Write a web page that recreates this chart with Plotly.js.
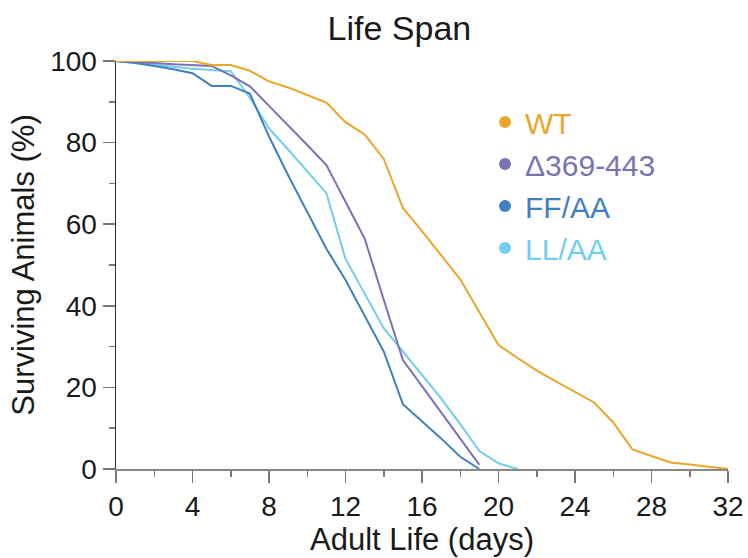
<!DOCTYPE html>
<html>
<head>
<meta charset="utf-8">
<script src="https://cdn.plot.ly/plotly-3.0.1.min.js"></script>
<style>html,body{margin:0;padding:0;background:#fff;}#chart{width:748px;height:558px;}</style>
</head>
<body>
<div id="chart"></div>
<script>
// Days (x values)
const daysWT = [0,1,2,3,4,5,6,7,8,9,10,11,12,13,14,15,16,17,18,19,20,21,22,23,24,25,26,27,28,29,30,31,32];
const daysD  = [0,1,2,3,4,5,6,7,8,9,10,11,12,13,14,15,16,17,18,19];
const daysFF = [0,1,2,3,4,5,6,7,8,9,10,11,12,13,14,15,16,17,18,19];
const daysLL = [0,1,2,3,4,5,6,7,8,9,10,11,12,13,14,15,16,17,18,19,20,21];

// Surviving animals (%)
const survWT = [100,100,100,100,100,99,99,97.6,95,93.5,91.6,89.8,85,82,76,64,58.3,52.5,46.5,38.4,30.4,27.2,24.1,21.5,18.9,16.3,11.4,4.8,3.2,1.6,1.1,0.5,0];
const survD  = [100,99.8,99.5,99.2,99,98.8,96.5,93.8,89,84.3,79.4,74.5,65.4,56.5,41.5,26.7,20.3,13.9,7.5,1];
const survFF = [100,99.5,98.8,98,97,93.9,93.9,92,81.5,72,63,54,46.3,37.5,28.8,15.9,11.7,7.5,3,0];
const survLL = [100,99.6,99.1,98.6,98.1,97.8,97.5,91,83.5,78.3,73,67.6,51.5,43,34.5,28.8,23,17.3,11,4.4,1.4,0];

const seriesNames = ['WT','\u0394369-443','FF/AA','LL/AA'];
const seriesColors = ['#EBA62A','#7874B4','#3F80C0','#72CDF0'];
const xTicks = [0,4,8,12,16,20,24,28,32];
const yTicks = [0,20,40,60,80,100];

const xs = [daysWT, daysD, daysFF, daysLL];
const ys = [survWT, survD, survFF, survLL];

const traces = [];
[3,2,1,0].forEach(i => {
  traces.push({
    x: xs[i], y: ys[i], type: 'scatter', mode: 'lines',
    line: {color: seriesColors[i], width: 2},
    showlegend: false, hoverinfo: 'skip', cliponaxis: false
  });
});
[0,1,2,3].forEach(i => {
  traces.push({
    x: [null], y: [null], type: 'scatter', mode: 'markers',
    marker: {color: seriesColors[i], size: 14},
    name: '<span style="color:' + seriesColors[i] + '">' + seriesNames[i] + '</span>',
    legendgroup: 'g' + i, showlegend: true
  });
});

const font = 'Liberation Sans, Arial, sans-serif';
const layout = {
  width: 748, height: 558,
  margin: {l: 116, r: 20, t: 61, b: 89, pad: 0},
  paper_bgcolor: '#fff', plot_bgcolor: '#fff',
  font: {family: font, color: '#1a1a1a', size: 28},
  title: {text: 'Life Span', font: {family: font, size: 34, color: '#1a1a1a'}, x: 0.534, xanchor: 'center', y: 0.95, yanchor: 'middle'},
  xaxis: {
    range: [0, 32], tickvals: xTicks, ticktext: xTicks.map(String),
    ticks: 'outside', ticklen: 12, tickwidth: 1.5, tickcolor: '#777',
    showline: true, linecolor: '#888', linewidth: 1.5,
    showgrid: false, zeroline: false,
    tickfont: {family: font, size: 28, color: '#1a1a1a'},
    minor: {dtick: 2, tick0: 0, ticks: 'outside', ticklen: 6, tickwidth: 1.5, tickcolor: '#777', showgrid: false},
    title: {text: 'Adult Life (days)', font: {family: font, size: 31, color: '#1a1a1a'}, standoff: 4}
  },
  yaxis: {
    range: [0, 100], tickvals: yTicks, ticktext: yTicks.map(String),
    ticks: 'outside', ticklen: 12, tickwidth: 1.5, tickcolor: '#777',
    showline: true, linecolor: '#333', linewidth: 1.5,
    showgrid: false, zeroline: false,
    tickfont: {family: font, size: 28, color: '#1a1a1a'},
    minor: {dtick: 10, tick0: 0, ticks: 'outside', ticklen: 6, tickwidth: 1.5, tickcolor: '#777', showgrid: false},
    title: {text: 'Surviving Animals (%)', font: {family: font, size: 31, color: '#1a1a1a'}, standoff: 6}
  },
  showlegend: true,
  legend: {
    x: 0.603, y: 0.914, xanchor: 'left', yanchor: 'top',
    bgcolor: 'rgba(0,0,0,0)', borderwidth: 0,
    font: {family: font, size: 30},
    tracegroupgap: 0, itemsizing: 'constant'
  }
};

Plotly.newPlot('chart', traces, layout, {staticPlot: true, displayModeBar: false});
</script>
</body>
</html>
